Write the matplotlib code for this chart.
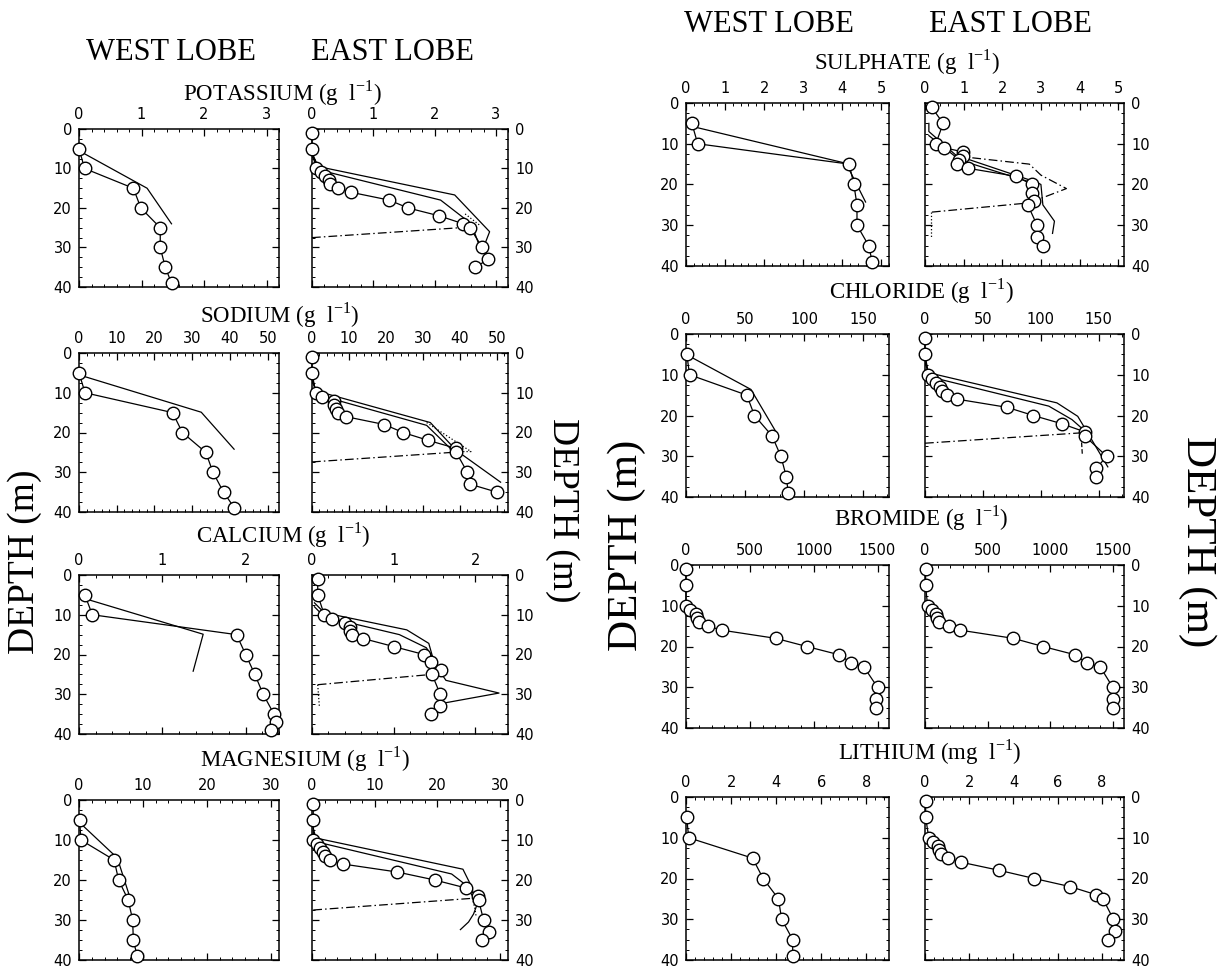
import matplotlib
matplotlib.use("Agg")
import matplotlib.pyplot as plt
from matplotlib.ticker import AutoMinorLocator, MultipleLocator

plt.rcParams["font.family"] = ["DejaVu Sans"]
SERIF = "Liberation Serif"

# depths (m) of sampled points
EAST_DEPTH = [1, 5, 10, 11, 12, 13, 14, 15, 16, 18, 20, 22, 24, 25, 30, 33, 35]
WEST_DEPTH = [5, 10, 15, 20, 25, 30, 35, 39]
CA_WEST_DEPTH = [5, 10, 15, 20, 25, 30, 35, 37, 39]

# potassium (g/l)
K_WEST = [0.0, 0.09, 0.87, 0.99, 1.30, 1.30, 1.38, 1.48]
K_WEST_MODEL_X = [0.0, 1.09, 1.48]
K_WEST_MODEL_D = [5.5, 15.0, 24.0]
K_EAST = [0, 0, 0.06, 0.15, 0.22, 0.28, 0.30, 0.43, 0.63, 1.26, 1.57, 2.08, 2.47, 2.58, 2.78, 2.88, 2.66]
K_EAST_A_X = [0, 0.1, 2.33, 2.9, 2.8]
K_EAST_A_D = [6, 9.5, 16.7, 26, 30]
K_EAST_B_X = [0, 0.15, 2.1, 2.6, 2.72]
K_EAST_B_D = [7, 10.5, 18, 24, 29]
K_EAST_DOT_X = [2.5, 2.75]
K_EAST_DOT_D = [21.5, 24.5]
K_EAST_DASH_X = [0, 2.6]
K_EAST_DASH_D = [27.5, 24.8]

# sodium (g/l)
NA_WEST = [0, 1.6, 24.8, 27.4, 33.6, 35.5, 38.3, 41.2]
NA_WEST_MODEL_X = [0, 32.4, 41.1]
NA_WEST_MODEL_D = [5.5, 14.9, 24.2]
NA_EAST = [0, 0, 1, 2.7, 5.9, 5.9, 6.6, 7.0, 9.1, 19.6, 24.6, 31.5, 39, 39, 42, 42.7, 50]
NA_EAST_A_X = [0, 1, 32, 39, 51]
NA_EAST_A_D = [6, 9.5, 17.5, 24.5, 32.5]
NA_EAST_B_X = [0, 1.5, 31, 38.5]
NA_EAST_B_D = [7, 10.5, 18.2, 25]
NA_EAST_DOT_X = [31, 43, 40]
NA_EAST_DOT_D = [17.5, 24.8, 24.8]
NA_EAST_DASH_X = [0, 39.5]
NA_EAST_DASH_D = [27.4, 24.9]

# calcium (g/l)
CA_WEST = [0.07, 0.16, 1.89, 2.0, 2.11, 2.21, 2.34, 2.36, 2.30]
CA_WEST_MODEL_X = [0, 1.49, 1.37]
CA_WEST_MODEL_D = [5.5, 14.9, 24.2]
CA_EAST = [0.07, 0.07, 0.15, 0.24, 0.41, 0.46, 0.47, 0.49, 0.63, 1.0, 1.37, 1.46, 1.58, 1.47, 1.57, 1.57, 1.46]
CA_EAST_A_X = [0.03, 0.15, 1.16, 1.43, 1.5, 1.64, 2.29, 1.54]
CA_EAST_A_D = [7, 9.5, 13.8, 17.2, 22.3, 26.5, 29.7, 32.5]
CA_EAST_B_X = [0.03, 0.15, 1.07, 1.40, 1.5]
CA_EAST_B_D = [8, 10.5, 15, 18.3, 21.4]
CA_EAST_DOT_X = [0.07, 0.09]
CA_EAST_DOT_D = [27.6, 33]
CA_EAST_DASH_X = [0.07, 1.47]
CA_EAST_DASH_D = [27.6, 25]

# magnesium (g/l)
MG_WEST = [0.1, 0.3, 5.5, 6.2, 7.7, 8.4, 8.5, 9.1]
MG_WEST_MODEL_X = [0, 6.0, 8.0]
MG_WEST_MODEL_D = [5.5, 14.5, 24.5]
MG_EAST = [0.2, 0.2, 0.2, 0.8, 1.2, 1.7, 2.0, 2.8, 4.9, 13.6, 19.6, 24.6, 26.5, 26.6, 27.4, 28.3, 27.2]
MG_EAST_A_X = [0.2, 0.6, 24.1, 25.4, 26.0]
MG_EAST_A_D = [7, 9.5, 17.3, 21.4, 24.5]
MG_EAST_B_X = [0.2, 0.8, 22.3, 24.7, 25.8]
MG_EAST_B_D = [8, 10.5, 18.5, 21.4, 24.5]
MG_EAST_C_X = [26.3, 25.8, 25.0, 23.7]
MG_EAST_C_D = [26.4, 28.5, 30.5, 32.4]
MG_EAST_DOT_X = [25.6, 26.0, 26.2]
MG_EAST_DOT_D = [24.5, 27, 29]
MG_EAST_DASH_X = [0.2, 26.3]
MG_EAST_DASH_D = [27.5, 24.5]

# sulphate (g/l)
SO4_WEST = [0.15, 0.3, 4.18, 4.3, 4.38, 4.38, 4.68, 4.77]
SO4_WEST_MODEL_X = [0.05, 4.1, 4.6]
SO4_WEST_MODEL_D = [5.5, 14.8, 24.3]
SO4_EAST = [0.17, 0.47, 0.28, 0.5, 0.99, 0.99, 0.87, 0.82, 1.1, 2.36, 2.76, 2.78, 2.81, 2.66, 2.9, 2.9, 3.06]
SO4_EAST_A_X = [0.1, 0.1, 0.8, 2.9, 3.0, 3.05, 3.35, 3.3]
SO4_EAST_A_D = [5, 7, 12.8, 19.5, 20, 25, 29, 32]
SO4_EAST_B_X = [0.1, 0.9, 2.75]
SO4_EAST_B_D = [8, 14, 19.5]
SO4_EAST_DOT_X = [0.15, 0.15]
SO4_EAST_DOT_D = [26.8, 33]
SO4_EAST_DASH_X = [0.8, 2.7, 3.0, 3.66, 2.7, 0.15]
SO4_EAST_DASH_D = [13, 15, 17.7, 21, 24.5, 26.8]

# chloride (g/l)
CL_WEST = [0.7, 3, 51.5, 58, 72.9, 80.4, 85, 86.6]
CL_WEST_MODEL_X = [0, 55, 76]
CL_WEST_MODEL_D = [5, 13.6, 23.9]
CL_EAST = [0, 0, 3, 6.3, 9.6, 13, 14.6, 19, 28, 71, 93.6, 118, 138, 138, 157, 148, 148]
CL_EAST_A_X = [0, 3, 114, 132, 139, 158]
CL_EAST_A_D = [6, 9.5, 16.9, 20.2, 23.5, 32.6]
CL_EAST_B_X = [0, 4, 107, 127, 137]
CL_EAST_B_D = [7, 10.5, 17.7, 21, 23.5]
CL_EAST_DOT_X = [135, 136]
CL_EAST_DOT_D = [25, 29.7]
CL_EAST_DASH_X = [0, 138]
CL_EAST_DASH_D = [26.8, 24.2]

# bromide
BR_WEST = [0, 0, 0, 33, 76, 85, 100, 170, 283, 703, 946, 1196, 1296, 1393, 1500, 1491, 1491]
BR_EAST = [5, 5, 20, 55, 85, 97, 110, 188, 283, 706, 943, 1196, 1293, 1400, 1500, 1500, 1500]

# lithium (mg/l)
LI_WEST = [0.03, 0.12, 2.95, 3.42, 4.1, 4.24, 4.73, 4.73]
LI_EAST = [0.03, 0.03, 0.17, 0.34, 0.57, 0.65, 0.72, 1.03, 1.63, 3.36, 4.94, 6.57, 7.75, 8.05, 8.52, 8.6, 8.26]

DASHDOT = (0, (7, 2.5, 1.2, 2.5))

W, H = 1226, 968
fig = plt.figure(figsize=(W / 100, H / 100), dpi=100)


def add_axes(x0, x1, y0, y1):
    return fig.add_axes([x0 / W, 1 - y1 / H, (x1 - x0) / W, (y1 - y0) / H])


def panel(ax, xmax, xstep, side, depth, values, models=()):
    for mx, md, ls in models:
        ax.plot(mx, md, color="black", lw=0.9, ls=ls, zorder=2)
    ax.plot(values, depth, "-o", color="black", mfc="white", mec="black",
            ms=9, mew=1.0, lw=0.9, zorder=3, clip_on=False)
    ax.set_xlim(0, xmax)
    ax.set_ylim(40, 0)
    ax.xaxis.set_major_locator(MultipleLocator(xstep))
    ax.xaxis.set_minor_locator(AutoMinorLocator(5))
    ax.yaxis.set_major_locator(MultipleLocator(10))
    ax.yaxis.set_minor_locator(AutoMinorLocator(4))
    ax.tick_params(which="both", direction="in", top=True, bottom=True,
                   left=True, right=True, labeltop=True, labelbottom=False,
                   labelleft=(side == "west"), labelright=(side == "east"))
    ax.tick_params(which="major", length=5, width=0.9, labelsize=10.5, pad=5)
    ax.tick_params(which="minor", length=2.5, width=0.7)
    for s in ax.spines.values():
        s.set_linewidth(1.1)


def ftext(x, y, s, size, **kw):
    fig.text(x / W, 1 - y / H, s, fontsize=size, family=SERIF,
             ha="center", va="center", **kw)


def unit(name, u="g"):
    return name + " (" + u + r"  l$^{\mathregular{-1}}$)"


# panel columns (pixels)
LW = (79, 279)
LE = (312, 508)
RW = (686, 889)
RE = (925, 1124)

ax = add_axes(*LW, 129, 287)
panel(ax, 3.2, 1, "west", WEST_DEPTH, K_WEST,
      [(K_WEST_MODEL_X, K_WEST_MODEL_D, "-")])
ax = add_axes(*LE, 129, 287)
panel(ax, 3.2, 1, "east", EAST_DEPTH, K_EAST,
      [(K_EAST_A_X, K_EAST_A_D, "-"), (K_EAST_B_X, K_EAST_B_D, "-"),
       (K_EAST_DOT_X, K_EAST_DOT_D, ":"), (K_EAST_DASH_X, K_EAST_DASH_D, DASHDOT)])

ax = add_axes(*LW, 353, 512)
panel(ax, 53, 10, "west", WEST_DEPTH, NA_WEST,
      [(NA_WEST_MODEL_X, NA_WEST_MODEL_D, "-")])
ax = add_axes(*LE, 353, 512)
panel(ax, 53, 10, "east", EAST_DEPTH, NA_EAST,
      [(NA_EAST_A_X, NA_EAST_A_D, "-"), (NA_EAST_B_X, NA_EAST_B_D, "-"),
       (NA_EAST_DOT_X, NA_EAST_DOT_D, ":"), (NA_EAST_DASH_X, NA_EAST_DASH_D, DASHDOT)])

ax = add_axes(*LW, 575, 734)
panel(ax, 2.4, 1, "west", CA_WEST_DEPTH, CA_WEST,
      [(CA_WEST_MODEL_X, CA_WEST_MODEL_D, "-")])
ax = add_axes(*LE, 575, 734)
panel(ax, 2.4, 1, "east", EAST_DEPTH, CA_EAST,
      [(CA_EAST_A_X, CA_EAST_A_D, "-"), (CA_EAST_B_X, CA_EAST_B_D, "-"),
       (CA_EAST_DOT_X, CA_EAST_DOT_D, ":"), (CA_EAST_DASH_X, CA_EAST_DASH_D, DASHDOT)])

ax = add_axes(*LW, 800, 960)
panel(ax, 31.3, 10, "west", WEST_DEPTH, MG_WEST,
      [(MG_WEST_MODEL_X, MG_WEST_MODEL_D, "-")])
ax = add_axes(*LE, 800, 960)
panel(ax, 31.3, 10, "east", EAST_DEPTH, MG_EAST,
      [(MG_EAST_A_X, MG_EAST_A_D, "-"), (MG_EAST_B_X, MG_EAST_B_D, "-"),
       (MG_EAST_C_X, MG_EAST_C_D, "-"), (MG_EAST_DOT_X, MG_EAST_DOT_D, ":"),
       (MG_EAST_DASH_X, MG_EAST_DASH_D, DASHDOT)])

ax = add_axes(*RW, 103, 266)
panel(ax, 5.2, 1, "west", WEST_DEPTH, SO4_WEST,
      [(SO4_WEST_MODEL_X, SO4_WEST_MODEL_D, "-")])
ax = add_axes(*RE, 103, 266)
panel(ax, 5.15, 1, "east", EAST_DEPTH, SO4_EAST,
      [(SO4_EAST_A_X, SO4_EAST_A_D, "-"), (SO4_EAST_B_X, SO4_EAST_B_D, "-"),
       (SO4_EAST_DOT_X, SO4_EAST_DOT_D, ":"), (SO4_EAST_DASH_X, SO4_EAST_DASH_D, DASHDOT)])

ax = add_axes(*RW, 334, 497)
panel(ax, 172, 50, "west", WEST_DEPTH, CL_WEST,
      [(CL_WEST_MODEL_X, CL_WEST_MODEL_D, "-")])
ax = add_axes(*RE, 334, 497)
panel(ax, 172, 50, "east", EAST_DEPTH, CL_EAST,
      [(CL_EAST_A_X, CL_EAST_A_D, "-"), (CL_EAST_B_X, CL_EAST_B_D, "-"),
       (CL_EAST_DOT_X, CL_EAST_DOT_D, "--"), (CL_EAST_DASH_X, CL_EAST_DASH_D, DASHDOT)])

ax = add_axes(*RW, 565, 728)
panel(ax, 1590, 500, "west", EAST_DEPTH, BR_WEST)
ax = add_axes(*RE, 565, 728)
panel(ax, 1590, 500, "east", EAST_DEPTH, BR_EAST)

ax = add_axes(*RW, 797, 960)
panel(ax, 9, 2, "west", WEST_DEPTH, LI_WEST)
ax = add_axes(*RE, 797, 960)
panel(ax, 9, 2, "east", EAST_DEPTH, LI_EAST)

# headings
ftext(171, 52, "WEST LOBE", 22)
ftext(392, 52, "EAST LOBE", 22)
ftext(769, 25, "WEST LOBE", 22)
ftext(1010, 25, "EAST LOBE", 22)

ftext(282, 93, unit("POTASSIUM"), 16.5)
ftext(280, 315, unit("SODIUM"), 16.5)
ftext(283, 535, unit("CALCIUM"), 16.5)
ftext(305, 759, unit("MAGNESIUM"), 16.5)
ftext(907, 62, unit("SULPHATE"), 16.5)
ftext(921, 291, unit("CHLORIDE"), 16.5)
ftext(921, 518, unit("BROMIDE"), 16.5)
ftext(930, 752, unit("LITHIUM", "mg"), 16.5)

ftext(25, 562, "DEPTH (m)", 27, rotation=90)
ftext(562, 510, "DEPTH (m)", 27, rotation=270)
ftext(627, 545, "DEPTH (m)", 31, rotation=90)
ftext(1197, 542, "DEPTH (m)", 31, rotation=270)

fig.savefig("out.png", dpi=100)
